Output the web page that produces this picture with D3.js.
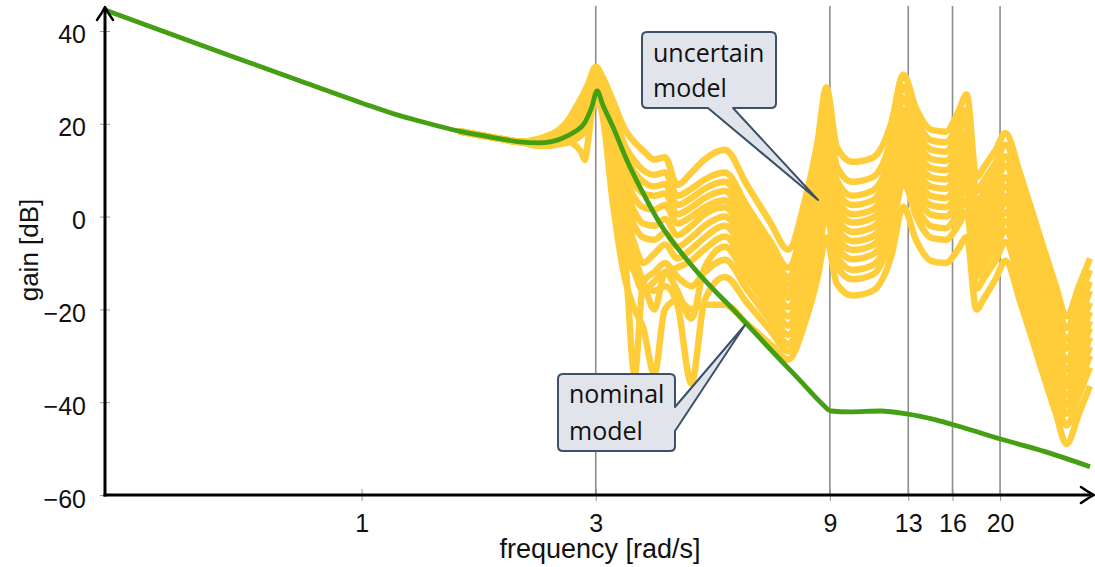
<!DOCTYPE html>
<html>
<head>
<meta charset="utf-8">
<script src="https://cdn.jsdelivr.net/npm/d3@7"></script>
<style>
  html, body { margin: 0; padding: 0; background: #ffffff; }
  svg { display: block; }
</style>
</head>
<body>
<svg id="chart" width="1095" height="567"></svg>
<script>
// Nominal model: gain [dB] against frequency [rad/s]
const nominalFreq = [0.3, 0.47, 0.75, 1, 1.2, 1.31, 1.58, 1.91, 2.1, 2.3, 2.55, 2.72, 2.84, 2.94, 3.02, 3.1, 3.25, 3.47, 3.74, 4.05, 4.73, 5.91, 6.82, 7.87, 8.63, 9.05, 9.9, 11.4, 12.9, 14.8, 16.6, 20.3, 24.8, 30.5];
const nominalGain = [44.5, 37.0, 29.2, 24.5, 21.7, 20.6, 18.4, 16.8, 16.1, 15.9, 16.8, 18.3, 20.0, 23.4, 27.1, 24.1, 19.4, 12.2, 5.2, -1.4, -10.8, -21.6, -28.7, -35.6, -40.1, -41.9, -42.1, -41.9, -42.5, -43.8, -45.3, -48.1, -50.7, -53.9];

// Uncertain model family: from 1.5 to 2.3 rad/s every member follows the nominal gain
// (the nominal line covers them below that), above it each member has its own gain
const familyStart = 1.5;
const uncertainFreq = [2.3, 2.6, 2.8, 2.85, 2.9, 3.0, 3.1, 3.25, 3.45, 3.6, 3.75, 3.95, 4.15, 4.4, 4.7, 5.0, 5.5, 6.1, 6.8, 7.4, 8.0, 8.5,
                       8.85, 9.3, 10, 11, 12, 12.7, 13.5, 14.5, 15.5, 16.4, 17.1, 17.9, 18.6, 19.6, 20.5, 22, 24, 26, 27.3, 29, 30.5];
const uncertain01 = [16.8, 20, 25.5, 27, 28.8, 32.3, 30, 25, 18.5, 16, 14.2, 12.3, 12.8, 6.8, 9.5, 12.3, 14.4, 6.8, -1.2, -7.1, 3.4, 16.3,
                     27.8, 15.0, 11.8, 12.7, 20.1, 30.6, 23.2, 18.7, 18.3, 22.3, 26.3, 8.5, 10.9, 14.4, 18, 9, -3.6, -15, -21.5, -14.8, -9];
const uncertain02 = [16.5, 19, 24, 25.5, 27.5, 31.5, 28.5, 22.5, 15, 12, 10, 9, 9.5, 4.5, 6, 8, 9.5, 2.3, -5.3, -11, -0.5, 12.5,
                     24, 10.8, 7.5, 8.5, 16.5, 28, 20.8, 16.4, 16, 19.5, 23, 5.5, 8, 11.7, 15.5, 6.5, -6.1, -17.5, -24, -17.3, -11.5];
const uncertain03 = [16.3, 18.5, 23, 24.5, 26.5, 31, 27.5, 21, 13, 9.5, 7.5, 6.5, 7, 2.5, 4, 6, 7.5, 0.3, -7.3, -13, -2.8, 9.8,
                     21, 7.8, 4.5, 5.6, 13.7, 25.5, 18.6, 14.4, 14, 17.3, 20.5, 3, 5.5, 9.2, 13, 4, -8.6, -20, -26.5, -19.8, -14];
const uncertain04 = [16.2, 18, 22, 23.5, 25.5, 30.5, 27, 20, 11, 7, 5, 4.5, 5, 0.5, 2, 4, 5.5, -1.5, -8.9, -14.5, -4.6, 7.6,
                     18.5, 5.7, 2.5, 3.5, 11.5, 23, 16.4, 12.4, 12, 15, 18, 1, 3.5, 7.2, 11, 2, -10.6, -22, -28.5, -21.8, -16];
const uncertain05 = [16, 17.5, 21, 22.5, 24.5, 30, 26, 18, 8.5, 4, 2, 1.5, 2.5, -1.5, 0, 2, 3.5, -3.4, -10.5, -16, -6.4, 5.4,
                     16, 3.6, 0.5, 1.5, 9.5, 21, 14.4, 10.4, 10, 13, 16, -1, 1.4, 4.9, 8.5, -0.5, -13.1, -24.5, -31, -24.3, -18.5];
const uncertain06 = [15.9, 17.2, 20, 21.5, 23.5, 29.5, 25.5, 16, 6, 1, -1.5, -2, -0.5, -4, -2, 0.5, 2, -4.8, -12, -17.5, -8.2, 3.3,
                     13.5, 1.7, -1.3, -0.3, 7.6, 19, 12.4, 8.4, 8, 11, 14, -3, -0.6, 2.9, 6.5, -2.5, -15.1, -26.5, -33, -26.3, -20.5];
const uncertain07 = [15.8, 16.3, 14, 12.2, 17, 29, 25, 15, 4, -2, -4.5, -5, -3.5, -6.5, -4.5, -2, 0, -6.8, -14, -19.5, -10.4, 0.9,
                     11, -0.4, -3.3, -2.3, 5.6, 17, 10.4, 6.4, 6, 9, 12, -5, -2.6, 0.9, 4.5, -4.5, -17.1, -28.5, -35, -28.3, -22.5];
const uncertain08 = [15.7, 16.8, 19, 20, 22, 28.5, 24.5, 14, 1, -6, -10, -8, -6, -9, -7, -4.5, -2, -8.8, -16, -21.5, -12.4, -1.1,
                     9, -2.4, -5.3, -4.3, 3.6, 15, 8.4, 4.4, 4, 7, 10, -7, -4.5, -0.8, 3, -6, -18.6, -30, -36.5, -29.8, -24];
const uncertain09 = [15.6, 16.6, 18.5, 19.5, 21.5, 28, 24, 12, -2, -9, -14, -20, -12, -11, -9.5, -7, -4.3, -11, -18.1, -23.5, -14.4, -3.1,
                     7, -4.4, -7.2, -6.2, 1.7, 13, 6.4, 2.4, 2, 5, 8, -9, -6.5, -2.8, 1, -8, -20.6, -32, -38.5, -31.8, -26];
const uncertain10 = [15.5, 16.4, 18.2, 19, 21, 27.5, 23.5, 10, -5, -12, -16, -14, -12, -16, -22, -11, -6.5, -13.2, -20.2, -25.5, -16.4, -5.1,
                     5, -6.4, -9.2, -8.2, -0.3, 11, 4.4, 0.4, 0, 3, 6, -11, -8.5, -4.8, -1, -10, -22.6, -34, -40.5, -33.8, -28];
const uncertain11 = [15.4, 16.2, 18, 18.8, 20.5, 27, 23, 8, -10, -34, -14, -12, -10, -13, -15, -12, -9.3, -15.7, -22.4, -27.5, -18.4, -7.1,
                     3, -8.6, -11.5, -10.5, -2.6, 9, 2.1, -2.1, -2.5, 0.5, 3.5, -13, -10.5, -6.8, -3, -12, -24.6, -36, -42.5, -35.8, -30];
const uncertain12 = [15.3, 16, 17.8, 18.6, 20.2, 26.5, 22.5, 6, -8, -12, -15, -16, -15, -19, -36, -18, -13, -18.6, -24.5, -29, -20.2, -9.2,
                     0.5, -10.7, -13.5, -12.5, -4.3, 7.5, 0, -4.6, -5, -2, 1, -15.5, -13, -9.4, -5.5, -14.5, -27.1, -38.5, -45, -38.3, -32.5];
const uncertain13 = [15.2, 15.8, 17.5, 18.3, 19.8, 25.5, 21.5, 3, -14, -20, -24, -34, -20, -18, -20, -19, -19, -23.1, -27.5, -30.8, -23, -13,
                     -4.5, -14.5, -17, -16, -8.6, 2.1, -5.2, -9.6, -10, -7.2, -4.4, -20, -17.4, -13.4, -9.5, -18.5, -31.1, -42.5, -49, -42.3, -36.5];

// Axis ticks and marked frequencies
const xTickValues = [1, 3, 9, 13, 16, 20];
const markedFreqs = [3, 9, 13, 16, 20];
const yTickValues = [-60, -40, -20, 0, 20, 40];

const svg = d3.select('#chart');
const x = d3.scaleLog().domain([0.3, 30.5]).range([105, 1090]);
const y = d3.scaleLinear().domain([-60, 44.5]).range([495, 10.1]);

const line = d3.line()
  .x(d => x(d[0]))
  .y(d => y(d[1]))
  .curve(d3.curveMonotoneX);

// vertical marker lines
svg.append('g').selectAll('line').data(markedFreqs).join('line')
  .attr('x1', d => x(d)).attr('x2', d => x(d))
  .attr('y1', 495).attr('y2', 6)
  .attr('stroke', '#8c8c8c').attr('stroke-width', 1.6);

// uncertain family
const sharedLow = nominalFreq.map((f, i) => [f, nominalGain[i]])
  .filter(d => d[0] >= familyStart && d[0] < uncertainFreq[0]);
const family = [uncertain01, uncertain02, uncertain03, uncertain04, uncertain05, uncertain06, uncertain07,
                uncertain08, uncertain09, uncertain10, uncertain11, uncertain12, uncertain13];
svg.append('g').selectAll('path').data(family).join('path')
  .attr('d', g => line(sharedLow.concat(uncertainFreq.map((f, i) => [f, g[i]]))))
  .attr('fill', 'none')
  .attr('stroke', '#ffcd3a')
  .attr('stroke-width', 6.5)
  .attr('stroke-linejoin', 'round')
  .attr('stroke-linecap', 'butt');

// nominal model
svg.append('path')
  .attr('d', line(nominalFreq.map((f, i) => [f, nominalGain[i]])))
  .attr('fill', 'none')
  .attr('stroke', '#44a012')
  .attr('stroke-width', 4.8)
  .attr('stroke-linejoin', 'round');

// x axis ticks and labels
const xAxis = svg.append('g')
  .attr('transform', 'translate(0,495)')
  .call(d3.axisBottom(x).tickValues(xTickValues).tickFormat(d3.format('d')).tickSize(6).tickPadding(13));
xAxis.select('.domain').remove();
xAxis.selectAll('.tick line').attr('y1', -6).attr('y2', 6).attr('stroke', '#9a9a9a').attr('stroke-width', 1);
xAxis.selectAll('.tick text')
  .attr('font-family', '"Liberation Sans", Arial, sans-serif')
  .attr('font-size', 25).attr('fill', '#111');

// y axis ticks and labels
const yAxis = svg.append('g')
  .attr('transform', 'translate(105,0)')
  .call(d3.axisLeft(y).tickValues(yTickValues).tickFormat(d3.format('d')).tickSize(5).tickPadding(14));
yAxis.select('.domain').remove();
yAxis.selectAll('.tick line').attr('x1', 5).attr('x2', -5).attr('stroke', '#9a9a9a').attr('stroke-width', 1);
yAxis.selectAll('.tick text')
  .attr('dy', '0.48em')
  .attr('font-family', '"Liberation Sans", Arial, sans-serif')
  .attr('font-size', 25).attr('fill', '#111');

// axis lines with arrow heads
const axisG = svg.append('g').attr('fill', 'none').attr('stroke', '#000');
axisG.append('path').attr('d', 'M105,496.5 V8').attr('stroke-width', 3);
axisG.append('path').attr('d', 'M103.5,495 H1091').attr('stroke-width', 3);
axisG.append('path').attr('d', 'M97,20 Q102,13 105,7 Q108,13 113,20')
  .attr('stroke-width', 2.5).attr('stroke-linecap', 'round').attr('stroke-linejoin', 'round');
axisG.append('path').attr('d', 'M1081,487 Q1088,492 1094,495 Q1088,498 1081,503')
  .attr('stroke-width', 2.5).attr('stroke-linecap', 'round').attr('stroke-linejoin', 'round');

// axis titles
svg.append('text')
  .attr('x', 600).attr('y', 558)
  .attr('text-anchor', 'middle')
  .attr('font-family', '"Liberation Sans", Arial, sans-serif')
  .attr('font-size', 27).attr('fill', '#111')
  .text('frequency [rad/s]');
svg.append('text')
  .attr('transform', 'translate(38,250) rotate(-90)')
  .attr('text-anchor', 'middle')
  .attr('font-family', '"Liberation Sans", Arial, sans-serif')
  .attr('font-size', 26).attr('fill', '#111')
  .text('gain [dB]');

// callouts
const callouts = svg.append('g');
callouts.append('path')
  .attr('d', 'M647,32 H771 Q776,32 776,37 V103 Q776,108 771,108 H733 L818,200 L708,108 H647 Q642,108 642,103 V37 Q642,32 647,32 Z')
  .attr('fill', '#e1e4ea').attr('stroke', '#3c5069').attr('stroke-width', 2).attr('stroke-linejoin', 'round');
callouts.append('path')
  .attr('d', 'M563,374 H670 Q675,374 675,379 V407 L745,325 L675,431 V446 Q675,451 670,451 H563 Q558,451 558,446 V379 Q558,374 563,374 Z')
  .attr('fill', '#e1e4ea').attr('stroke', '#3c5069').attr('stroke-width', 2).attr('stroke-linejoin', 'round');

const calloutText = [
  { x: 653, y: 62, t: 'uncertain' },
  { x: 653, y: 97, t: 'model' },
  { x: 569, y: 403, t: 'nominal' },
  { x: 569, y: 440, t: 'model' }
];
callouts.selectAll('text').data(calloutText).join('text')
  .attr('x', d => d.x).attr('y', d => d.y)
  .attr('font-family', '"Open Sans", "Noto Sans", sans-serif')
  .attr('font-size', 25).attr('fill', '#111')
  .text(d => d.t);
</script>
</body>
</html>
